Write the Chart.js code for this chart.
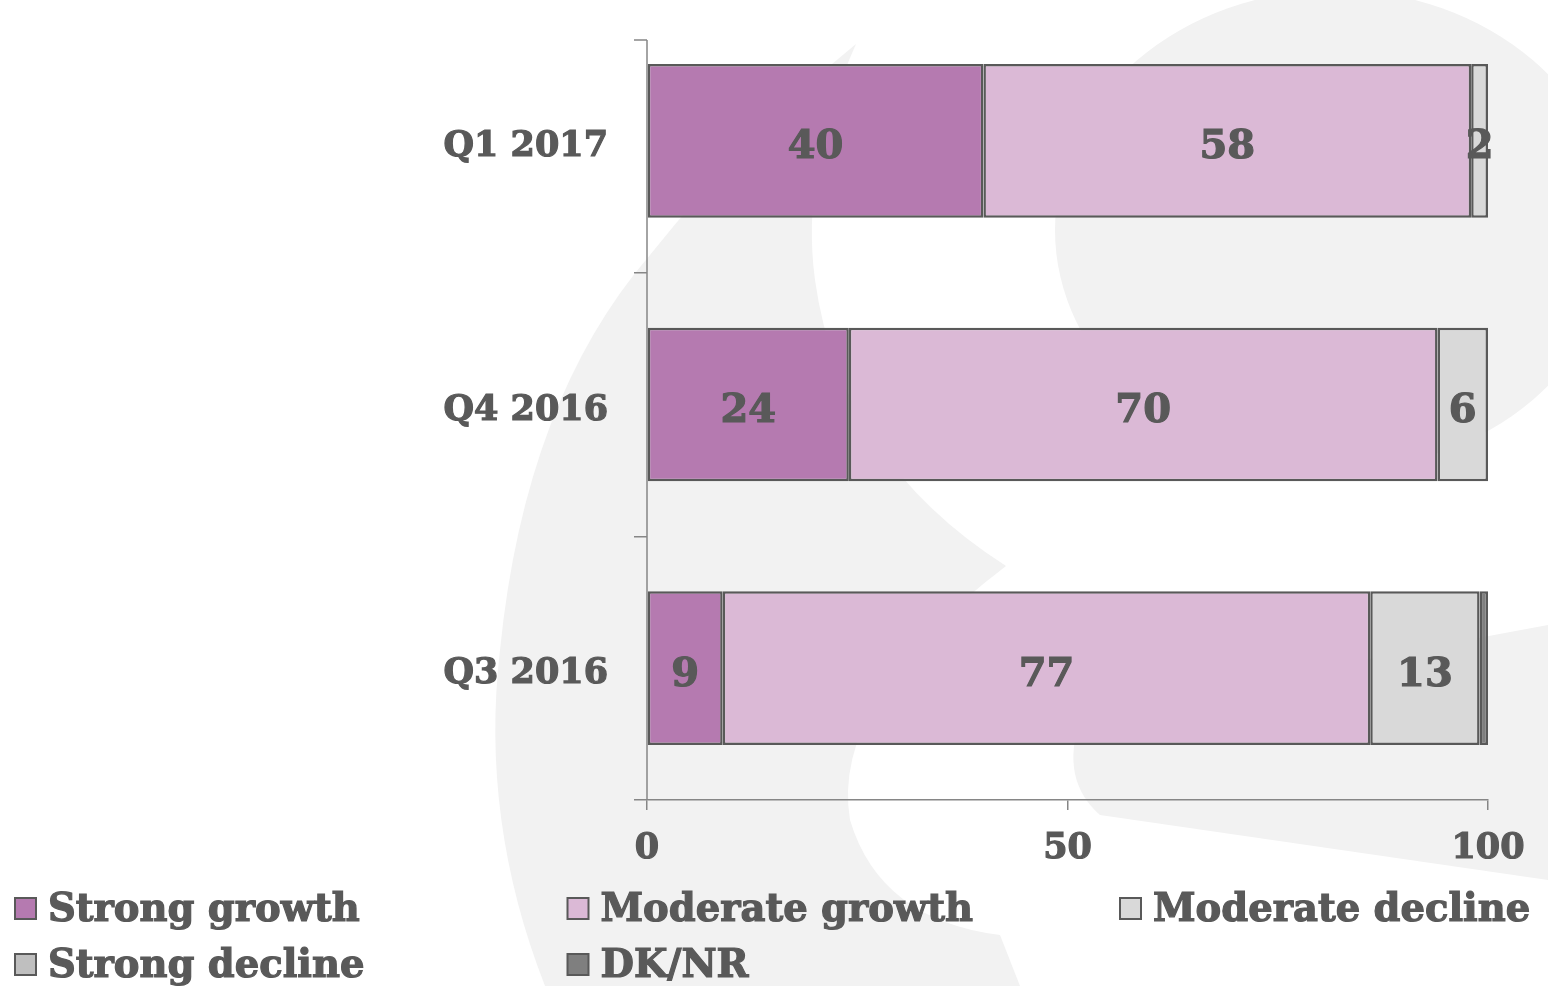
<!DOCTYPE html>
<html>
<head>
<meta charset="utf-8">
<script src="https://cdn.jsdelivr.net/npm/chart.js@4"></script>
<style>
  html, body { margin: 0; padding: 0; background: #fff; }
  #wrap { width: 1548px; height: 986px; position: relative; }
</style>
</head>
<body>
<div id="wrap"><canvas id="growthChart" width="1548" height="986"></canvas></div>
<script>
// ===== Data =====
const quarters = ["Q1 2017", "Q4 2016", "Q3 2016"];
const strongGrowth = [40, 24, 9];
const moderateGrowth = [58, 70, 77];
const moderateDecline = [2, 6, 13];
const strongDecline = [0, 0, 0];
const dkNr = [0, 0, 1];
const xTicks = [0, 50, 100];

const seriesNames = ["Strong growth", "Moderate growth", "Moderate decline", "Strong decline", "DK/NR"];
const seriesColors = ["#b57ab0", "#dbb9d6", "#d9d9d9", "#bfbfbf", "#7f7f7f"];

const TEXT = "#595959";
const AXIS = "#868686";
const FONT = "'DejaVu Serif', Georgia, serif";

// ===== Background logo shape (decoration) =====
const backdrop = {
  id: "backdrop",
  beforeDraw(chart) {
    const c = chart.ctx;
    c.save();
    c.fillStyle = "#fff";
    c.fillRect(0, 0, chart.width, chart.height);
    c.fillStyle = "#f2f2f2";
    // left crescent
    c.beginPath();
    c.moveTo(545, 986);
    c.quadraticCurveTo(480, 820, 500, 650);
    c.quadraticCurveTo(525, 400, 650, 255);
    c.quadraticCurveTo(750, 130, 856, 44);
    c.quadraticCurveTo(800, 170, 815, 280);
    c.quadraticCurveTo(840, 460, 1006, 566);
    c.quadraticCurveTo(830, 700, 850, 820);
    c.quadraticCurveTo(880, 920, 1000, 935);
    c.lineTo(1020, 986);
    c.closePath();
    c.fill();
    // top right bowl
    c.beginPath();
    c.ellipse(1335, 230, 280, 240, 0, 0, Math.PI * 2);
    c.fill();
    // lower tail
    c.beginPath();
    c.moveTo(1080, 720);
    c.quadraticCurveTo(1250, 680, 1548, 625);
    c.lineTo(1548, 880);
    c.lineTo(1100, 815);
    c.quadraticCurveTo(1060, 780, 1080, 720);
    c.closePath();
    c.fill();
    c.restore();
  }
};

// ===== Y axis line (starts a bit below the top band edge, like the original) =====
const yAxisLine = {
  id: "yAxisLine",
  afterDraw(chart) {
    const c = chart.ctx;
    const x = chart.scales.x.getPixelForValue(0);
    const top = chart.chartArea.top + 31;
    c.save();
    c.strokeStyle = AXIS;
    c.lineWidth = 1.5;
    c.beginPath();
    c.moveTo(x, top);
    c.lineTo(x, chart.chartArea.bottom);
    c.moveTo(x - 13, top);
    c.lineTo(x, top);
    c.stroke();
    c.restore();
  }
};

function heavyText(c, str, x, y) {
  c.strokeText(str, x, y);
  c.fillText(str, x, y);
}

// ===== Value labels inside segments =====
const valueLabels = {
  id: "valueLabels",
  afterDatasetsDraw(chart) {
    const c = chart.ctx;
    c.save();
    c.font = "bold 40px " + FONT;
    c.fillStyle = TEXT;
    c.strokeStyle = TEXT;
    c.lineWidth = 1.2;
    c.textAlign = "center";
    c.textBaseline = "middle";
    chart.data.datasets.forEach((ds, di) => {
      if (ds.label === "DK/NR") return;
      const meta = chart.getDatasetMeta(di);
      meta.data.forEach((bar, i) => {
        const v = ds.data[i];
        if (!v) return;
        heavyText(c, String(v), (bar.x + bar.base) / 2, bar.y + 7);
      });
    });
    c.restore();
  }
};

// ===== Legend, three columns at the bottom =====
const gridLegend = {
  id: "gridLegend",
  afterDraw(chart) {
    const c = chart.ctx;
    c.save();
    c.font = "bold 38.5px " + FONT;
    c.textBaseline = "middle";
    c.textAlign = "left";
    chart.data.datasets.forEach((ds, i) => {
      const col = i % 3, row = Math.floor(i / 3);
      const x = 15 + col * 552.5;
      const y = 908 + row * 56;
      c.fillStyle = ds.backgroundColor;
      c.strokeStyle = TEXT;
      c.lineWidth = 2;
      c.fillRect(x, y - 10, 21, 21);
      c.strokeRect(x, y - 10, 21, 21);
      c.fillStyle = TEXT;
      c.lineWidth = 1.2;
      heavyText(c, ds.label, x + 33, y + 3);
    });
    c.restore();
  }
};

const seriesData = [strongGrowth, moderateGrowth, moderateDecline, strongDecline, dkNr];

new Chart(document.getElementById("growthChart"), {
  type: "bar",
  data: {
    labels: quarters,
    datasets: seriesData.map((d, i) => ({
      label: seriesNames[i],
      data: d,
      backgroundColor: seriesColors[i],
      borderColor: TEXT,
      borderWidth: 2.5,
      borderSkipped: false,
      barPercentage: 0.583,
      categoryPercentage: 1
    }))
  },
  options: {
    indexAxis: "y",
    responsive: false,
    animation: false,
    devicePixelRatio: 1,
    layout: { padding: { left: 0, right: 60, top: 9, bottom: 116 } },
    plugins: {
      legend: { display: false },
      tooltip: { enabled: false }
    },
    scales: {
      x: {
        stacked: true,
        min: 0,
        max: 100,
        afterBuildTicks: (scale) => { scale.ticks = xTicks.map(v => ({ value: v })); },
        afterFit: (scale) => { scale.height = 70; scale.paddingLeft = 0; scale.paddingRight = 0; },
        ticks: {
          color: TEXT,
          font: { family: FONT, size: 35, weight: "bold" },
          padding: 18,
          textStrokeColor: TEXT,
          textStrokeWidth: 1.2
        },
        grid: { drawOnChartArea: false, color: AXIS, tickLength: 10, lineWidth: 1.5 },
        border: { color: AXIS, width: 1.5 }
      },
      y: {
        stacked: true,
        afterFit: (scale) => { scale.width = 647; scale.paddingTop = 0; scale.paddingBottom = 0; },
        ticks: {
          color: TEXT,
          font: { family: FONT, size: 35, weight: "bold" },
          padding: 26,
          labelOffset: 6,
          textStrokeColor: TEXT,
          textStrokeWidth: 1.2
        },
        grid: {
          drawOnChartArea: false,
          tickLength: 13,
          lineWidth: 1.5,
          color: (ctx) => ctx.index === 0 ? "rgba(0,0,0,0)" : AXIS
        },
        border: { display: false }
      }
    }
  },
  plugins: [backdrop, yAxisLine, valueLabels, gridLegend]
});
</script>
</body>
</html>
